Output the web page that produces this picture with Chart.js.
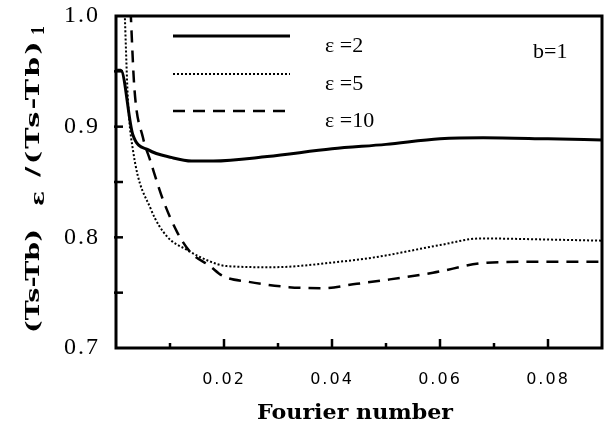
<!DOCTYPE html>
<html lang="en">
<head>
  <meta charset="UTF-8">
  <title>Temperature difference ratio vs Fourier number</title>
  <script src="https://cdn.jsdelivr.net/npm/chart.js"></script>
  <style>
    body { margin: 0; background: #fff; }
    canvas { display: block; }
  </style>
</head>
<body>
  <canvas id="chart" width="607" height="427"></canvas>

  <script>
    // values
    const seriesLabels = ["ε =2", "ε =5", "ε =10"];

    const fo2 = [0.0002, 0.0009, 0.0031, 0.006, 0.0104, 0.014, 0.018, 0.028, 0.040, 0.050, 0.060, 0.068, 0.080, 0.090];
    const r2  = [0.951, 0.951, 0.893, 0.879, 0.872, 0.869, 0.869, 0.873, 0.880, 0.884, 0.889, 0.890, 0.889, 0.888];

    const fo5 = [0.0016, 0.0022, 0.0032, 0.0065, 0.0094, 0.013, 0.0175, 0.0205, 0.029, 0.0415, 0.048, 0.060, 0.0675, 0.080, 0.090];
    const r5  = [1.005, 0.925, 0.877, 0.825, 0.801, 0.789, 0.778, 0.774, 0.773, 0.778, 0.782, 0.793, 0.799, 0.798, 0.797];

    const fo10 = [0.0027, 0.0034, 0.005, 0.0063, 0.0087, 0.0113, 0.0137, 0.0174, 0.0198, 0.0243, 0.032, 0.038, 0.0446, 0.0507, 0.0587, 0.0687, 0.080, 0.090];
    const r10  = [1.005, 0.935, 0.890, 0.870, 0.834, 0.805, 0.787, 0.774, 0.765, 0.760, 0.755, 0.754, 0.758, 0.762, 0.768, 0.777, 0.778, 0.778];

    const xTicks = [0.01, 0.02, 0.03, 0.04, 0.05, 0.06, 0.07, 0.08];
    const yTicks = [0.75, 0.8, 0.85, 0.9, 0.95];
    const xTitle = "Fourier number";
    const noteText = "b=1";

    const toPts = (xs, ys) => xs.map((x, i) => ({ x: x, y: ys[i] }));

    // draws text stretched/spaced out to a given width (the scan has wide glyphs)
    function fitText(ctx, text, x, y, width, maxStretch) {
      ctx.letterSpacing = "0px";
      const w = ctx.measureText(text).width;
      const k = Math.min(maxStretch, width / w);
      const sp = (width / k - w) / text.length;
      ctx.save();
      ctx.translate(x, y);
      ctx.scale(k, 1);
      ctx.letterSpacing = Math.max(0, sp) + "px";
      ctx.fillText(text, 0, 0);
      ctx.restore();
    }

    const decor = {
      id: "decor",
      beforeDraw(chart) {
        chart.ctx.letterSpacing = "2px";
      },
      afterDatasetsDraw(chart) {
        const ctx = chart.ctx;
        const a = chart.chartArea;
        const xs = chart.scales.x, ys = chart.scales.y;
        ctx.save();
        ctx.letterSpacing = "0px";
        ctx.strokeStyle = "#000";
        ctx.setLineDash([]);

        // frame
        ctx.lineWidth = 3;
        ctx.strokeRect(a.left, a.top, a.right - a.left, a.bottom - a.top);

        // inward ticks
        ctx.lineWidth = 2.5;
        xTicks.forEach(v => {
          const px = xs.getPixelForValue(v);
          const len = Math.round(v * 100) % 2 === 0 ? 9 : 5;
          ctx.beginPath();
          ctx.moveTo(px, a.bottom);
          ctx.lineTo(px, a.bottom - len);
          ctx.stroke();
        });
        yTicks.forEach(v => {
          const py = ys.getPixelForValue(v);
          ctx.beginPath();
          ctx.moveTo(a.left - 2, py);
          ctx.lineTo(a.left + 7, py);
          ctx.stroke();
        });

        // legend lines + labels
        const rows = [36, 74, 111];
        chart.data.datasets.forEach((ds, i) => {
          ctx.lineWidth = ds.borderWidth;
          ctx.setLineDash(ds.borderDash || []);
          ctx.beginPath();
          ctx.moveTo(173, rows[i]);
          ctx.lineTo(290, rows[i]);
          ctx.stroke();
        });
        ctx.setLineDash([]);
        ctx.fillStyle = "#000";
        ctx.font = "22px 'Liberation Serif'";
        ctx.textBaseline = "alphabetic";
        ctx.textAlign = "left";
        chart.data.datasets.forEach((ds, i) => {
          ctx.fillText(ds.label, 325, rows[i] + 16);
        });
        ctx.fillText(noteText, 533, 58);

        // x title
        ctx.font = "bold 20px 'DejaVu Serif'";
        fitText(ctx, xTitle, 257, 419, 196, 1.15);

        // y title, rotated, with subscripts
        ctx.translate(39, 333);
        ctx.rotate(-Math.PI / 2);
        ctx.font = "bold 19px 'DejaVu Serif'";
        fitText(ctx, "(Ts-Tb)", 0, 0, 104, 1.5);
        fitText(ctx, "ε", 127, 5, 15, 1.3);
        fitText(ctx, "/(Ts-Tb)", 156, 0, 138, 1.5);
        ctx.font = "bold 18px 'Liberation Serif'";
        ctx.fillText("1", 298, 5);
        ctx.restore();
      }
    };

    new Chart(document.getElementById("chart"), {
      type: "line",
      data: {
        datasets: [
          { label: seriesLabels[0], data: toPts(fo2, r2), borderColor: "#000", borderWidth: 3, borderDash: [] },
          { label: seriesLabels[1], data: toPts(fo5, r5), borderColor: "#000", borderWidth: 2, borderDash: [2, 2] },
          { label: seriesLabels[2], data: toPts(fo10, r10), borderColor: "#000", borderWidth: 2.5, borderDash: [12, 8] }
        ]
      },
      options: {
        responsive: false,
        animation: false,
        devicePixelRatio: 1,
        layout: { padding: { top: 16, right: 5, left: 0, bottom: 0 } },
        elements: {
          point: { radius: 0 },
          line: { cubicInterpolationMode: "monotone", fill: false }
        },
        plugins: { legend: { display: false }, tooltip: { enabled: false } },
        scales: {
          x: {
            type: "linear",
            min: 0,
            max: 0.09,
            afterFit: s => {
              s.height = 79;
              s.paddingLeft = 0; s.paddingRight = 0;
            },
            grid: { display: false },
            border: { display: false },
            ticks: {
              stepSize: 0.01,
              autoSkip: false,
              maxRotation: 0,
              padding: 14,
              color: "#000",
              font: { family: "'DejaVu Sans'", size: 16 },
              callback: v => (Math.round(v * 100) % 2 === 0 && v > 0.001) ? v.toFixed(2) : ""
            }
          },
          y: {
            min: 0.7,
            max: 1.0,
            afterFit: s => {
              s.width = 116;
              s.paddingTop = 0; s.paddingBottom = 0;
            },
            grid: { display: false },
            border: { display: false },
            ticks: {
              stepSize: 0.05,
              autoSkip: false,
              padding: 8,
              color: "#000",
              font: { family: "'Liberation Serif'", size: 24 },
              callback: v => Math.round(v * 100) % 10 === 0 ? v.toFixed(1) : ""
            }
          }
        }
      },
      plugins: [decor]
    });
  </script>
</body>
</html>
